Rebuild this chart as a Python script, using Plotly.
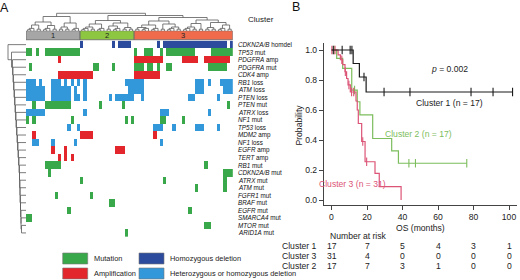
import plotly.graph_objects as go

W, H = 520, 280
def px(x): return x / W
def py(y): return 1 - y / H
def span(a, b): return list(range(a, b + 1))

# ---------------- data: panel A ----------------
genes = ["CDKN2A/B", "TP53", "PDGFRA", "PDGFRA", "CDK4", "RB1", "ATM", "PTEN", "PTEN", "ATRX",
         "NF1", "TP53", "MDM2", "NF1", "EGFR", "TERT", "RB1", "CDKN2A/B", "ATRX", "ATM",
         "FGFR1", "BRAF", "EGFR", "SMARCA4", "MTOR", "ARID1A"]
alterations = ["homdel", "mut", "amp", "mut", "amp", "loss", "loss", "loss", "mut", "loss",
               "mut", "loss", "amp", "loss", "amp", "amp", "mut", "mut", "mut", "mut",
               "mut", "mut", "mut", "mut", "mut", "mut"]
altered_samples = [
    [17, 27] + span(29, 32) + [41] + span(43, 62) + [64],
    [0, 1, 3] + span(6, 16) + [34] + span(37, 39) + [42] + span(44, 52) + span(58, 64),
    [10] + span(34, 42) + span(49, 53) + span(56, 63),
    [1, 21, 22, 27] + span(34, 36) + [38, 39, 41, 44, 45] + span(57, 62),
    span(10, 20) + span(34, 41),
    span(0, 2) + [4] + span(8, 10) + [12, 14, 16, 18] + span(31, 36) + span(53, 55) + [57] + span(61, 64),
    span(0, 5) + span(8, 13) + [15, 18] + span(32, 36) + span(53, 55) + span(62, 64),
    span(0, 5) + span(8, 13) + [15, 16, 18, 26] + span(28, 33) + [36, 51, 52, 60],
    [2] + span(6, 13) + [23, 30, 63],
    span(0, 5) + [18] + span(42, 44) + [57],
    [0, 2, 14, 31, 33, 42, 43, 49],
    [13, 16] + span(40, 42) + [46] + span(53, 55) + [60],
    [2] + span(17, 20) + [40],
    [2, 3, 8, 15, 42],
    [8, 12] + span(28, 30),
    [10, 12, 14],
    span(6, 10) + [56],
    [7] + span(62, 64),
    [17, 43, 62],
    [53, 62],
    [9, 20],
    [26, 27],
    [13, 51],
    [0, 1],
    [56, 57],
    [31],
]
cluster_names = ["1", "2", "3"]
cluster_sizes = [17, 17, 31]
cluster_colors = ["#a6a6a6", "#8dc641", "#ef6b4c"]
legend_labels = ["Mutation", "Amplification", "Homozygous deletion", "Heterozygous or homozygous deletion"]

# column dendrogram: (height, left, right); int = small group of leaves
col_tree = (17.7,
            (14.5, (9, (6, 3, 2), (5.5, 3, 2)), (8, (4, 2, 2), 3)),
            (15.5,
             (10.5, (7, (4, 3, 2), 3), (8, (5, 2, 3), (3.5, 2, 2))),
             (13.5,
              (10, (6, (3.5, 2, 3), 3), (7, 2, (4, 3, 2))),
              (11, (7.5, (4, 3, 2), 2), (8.5, (3.5, 2, 2), (6, 3, 2))))))
leaf_heights = {1: [], 2: [1.8], 3: [1.3, 2.6], 4: [1.2, 2.2, 3.0]}
row_merge_heights = [18, 14.5, 13.5, 13, 12.5, 12, 11.5, 11, 10.5, 10, 9.5, 9, 8.5, 8,
                     7.5, 7, 6.5, 6.5, 6, 6, 5.5, 5.5, 5, 5, 4.5]

# ---------------- data: panel B ----------------
c1_times = [0, 12.2, 15.7, 19.5]
c1_surv = [1.0, 0.91, 0.82, 0.72]
c1_end = 102.0
c1_censor = [1.0, 6.0, 10.5, 11.5, 18.3, 29.6, 44.2, 78.6, 91.0, 102.0]

c2_times = [0, 2.9, 6.3, 11.4, 14.5, 16.0, 23.2, 33.9, 37.7]
c2_surv = [1.0, 0.944, 0.878, 0.733, 0.655, 0.567, 0.41, 0.327, 0.245]
c2_end = 76.2
c2_censor = [1.5, 13.0, 43.6, 47.3, 76.2]

c3_times = [0, 3.7, 5.0, 6.3, 7.6, 8.5, 9.3, 10.6, 13.8, 14.5, 15.1, 17.0, 18.9, 24.5, 26.9, 39.2]
c3_surv = [1.0, 0.968, 0.935, 0.903, 0.855, 0.81, 0.767, 0.72, 0.66, 0.6, 0.51, 0.39, 0.255, 0.178, 0.089, 0.0]
c3_end = 39.2
c3_censor = [0.2, 2.0, 5.8, 7.8, 9.8, 11.3, 12.5, 17.6, 19.8]

risk_times = [0, 20, 40, 60, 80, 100]
risk_rows = ["Cluster 1", "Cluster 3", "Cluster 2"]
risk_c1 = [17, 7, 5, 4, 3, 1]
risk_c3 = [31, 4, 0, 0, 0, 0]
risk_c2 = [17, 7, 3, 1, 0, 0]

# ---------------- styles ----------------
FONT = "Liberation Sans, Arial, sans-serif"
KS = 8.6     # KM text size
bg = "#ffffff"
c_mut, c_amp, c_homdel, c_loss = "#39a84a", "#e2262c", "#2c4b9d", "#3298da"
legend_colors = [c_mut, c_amp, c_homdel, c_loss]
alt_code = {"mut": 1, "amp": 2, "homdel": 3, "loss": 4}
km_black, km_green, km_red = "#1a1a1a", "#7cbd5c", "#dc5476"

n_samples = sum(cluster_sizes)
n_rows = len(genes)

fig = go.Figure()

# ---- heatmap ----
z = [[0] * n_samples for _ in range(n_rows)]
for r, (alt, cols) in enumerate(zip(alterations, altered_samples)):
    for c in cols:
        z[r][c] = alt_code[alt]
cs = [[0, bg], [0.125, bg], [0.125, c_mut], [0.375, c_mut], [0.375, c_amp], [0.625, c_amp],
      [0.625, c_homdel], [0.875, c_homdel], [0.875, c_loss], [1, c_loss]]
fig.add_trace(go.Heatmap(z=z, x=list(range(n_samples)), y=list(range(n_rows)), zmin=0, zmax=4,
                         colorscale=cs, showscale=False, hoverinfo="skip", xaxis="x", yaxis="y"))

shapes = []
annotations = []

def note(text, x, y, size, color="#222", xanchor="center", xref="paper", yref="paper", **kw):
    annotations.append(dict(text=text, x=x, y=y, xref=xref, yref=yref, xanchor=xanchor, yanchor="middle",
                            showarrow=False, font=dict(size=size, color=color, family=kw.pop("family", FONT)), **kw))

# cluster bar
start = 0
for name, size, col in zip(cluster_names, cluster_sizes, cluster_colors):
    shapes.append(dict(type="rect", xref="x", yref="y", x0=start - 0.5, x1=start + size - 0.5,
                       y0=-1.85, y1=-0.65, fillcolor=col, line=dict(color="#666666", width=0.8)))
    note(name, start + size / 2 - 0.5, -1.25, 7.5, xref="x", yref="y")
    start += size

# column dendrogram
seg_x, seg_y = [], []
def build(node, s):
    if isinstance(node, int):
        cx, ch = s, 0
        for k in range(1, node):
            h = leaf_heights[node][k - 1]
            x = s + k
            seg_x.extend([cx, cx, x, x, None]); seg_y.extend([ch, h, h, 0, None])
            cx, ch = (cx + x) / 2, h
        return cx, ch, s + node
    h, a, b = node
    xa, ha, s = build(a, s)
    xb, hb, s = build(b, s)
    seg_x.extend([xa, xa, xb, xb, None]); seg_y.extend([ha, h, h, hb, None])
    return (xa + xb) / 2, h, s
build(col_tree, 0)
fig.add_trace(go.Scatter(x=seg_x, y=seg_y, mode="lines", line=dict(color="#5a5a5a", width=0.8),
                         hoverinfo="skip", xaxis="x", yaxis="y3"))

# row dendrogram (chain)
rx, ry = [], []
c, hc = n_rows - 1, 0
for k in range(n_rows - 2, -1, -1):
    h = row_merge_heights[k]
    rx.extend([0, h, h, hc, None]); ry.extend([k, k, c, c, None])
    c, hc = (k + c) / 2, h
fig.add_trace(go.Scatter(x=rx, y=ry, mode="lines", line=dict(color="#5a5a5a", width=0.8),
                         hoverinfo="skip", xaxis="x4", yaxis="y"))

# row labels
for r, (g, a) in enumerate(zip(genes, alterations)):
    note(f"<i>{g}</i> {a}", px(235.5), r, 6.3, color="#111", xanchor="left", yref="y")
note("Cluster", px(260.5), py(19.5), 8)

# legend
leg_pos = [(62.7, 253), (62.7, 268), (139, 253), (139, 268)]
for (lx, ly), col, lab in zip(leg_pos, legend_colors, legend_labels):
    shapes.append(dict(type="rect", xref="paper", yref="paper", x0=px(lx), x1=px(lx + 25),
                       y0=py(ly + 11), y1=py(ly), fillcolor=col, line=dict(color="#777", width=0.6)))
    note(lab, px(lx + 29), py(ly + 5.5), 7.4, xanchor="left")

# panel letters
note("A", px(4), py(7.5), 12.5, color="#111")
note("B", px(296), py(7), 12.5, color="#111")

# ---- KM ----
def surv_at(times, surv, t):
    s = surv[0]
    for ti, si in zip(times, surv):
        if ti <= t:
            s = si
    return s

for times, surv, end, cens, col in [(c2_times, c2_surv, c2_end, c2_censor, km_green),
                                     (c3_times, c3_surv, c3_end, c3_censor, km_red),
                                     (c1_times, c1_surv, c1_end, c1_censor, km_black)]:
    xs = list(times) + ([end] if end > times[-1] else [])
    ys = list(surv) + ([surv[-1]] if end > times[-1] else [])
    fig.add_trace(go.Scatter(x=xs, y=ys, mode="lines", line=dict(color=col, width=1.2, shape="hv"),
                             hoverinfo="skip", xaxis="x2", yaxis="y2"))
    fig.add_trace(go.Scatter(x=cens, y=[surv_at(times, surv, t) for t in cens], mode="markers",
                             marker=dict(symbol="line-ns", size=6, line=dict(width=1.1, color=col)),
                             hoverinfo="skip", xaxis="x2", yaxis="y2"))

note("<i>p</i> = 0.002", px(449.5), py(68.5), KS)
note("Cluster 1 (n = 17)", px(449.5), py(103), KS)
note("Cluster 2 (n = 17)", px(418.5), py(133.5), KS, color=km_green)
note("Cluster 3 (n = 31)", px(352), py(184), KS, color=km_red)
note("Probability", px(298.5), py(125), KS, textangle=-90)
note("OS (months)", px(420.5), py(227.5), KS)
note("Number at risk", px(328), py(235.5), KS, xanchor="left")
for lab, vals, yy in zip(risk_rows, [risk_c1, risk_c3, risk_c2], [245.5, 255.7, 265.9]):
    note(lab, px(318.5), py(yy), KS, xanchor="right")
    for t, v in zip(risk_times, vals):
        note(str(v), t, py(yy), KS, xref="x2")

hid = dict(visible=False, showgrid=False, zeroline=False)
fig.update_layout(
    width=W, height=H, autosize=False, margin=dict(l=0, r=0, t=0, b=0),
    paper_bgcolor=bg, plot_bgcolor=bg, showlegend=False,
    xaxis=dict(domain=[px(26), px(232.8)], range=[-0.5, n_samples - 0.5], anchor="y", **hid),
    yaxis=dict(domain=[py(236.7), py(30.7)], range=[n_rows - 0.5, -1.85], anchor="x", **hid),
    yaxis3=dict(domain=[py(31), py(12)], range=[0, 19], anchor="x", **hid),
    xaxis4=dict(domain=[px(3), px(26)], range=[23, 0], anchor="y", **hid),
    xaxis2=dict(domain=[px(324), px(517)], range=[-4.23, 104.5], anchor="y2", showgrid=False, zeroline=False,
                showline=True, linecolor="#444", linewidth=1.3, ticks="outside", ticklen=4, tickcolor="#444",
                tickvals=risk_times, tickfont=dict(size=KS, color="#222", family=FONT)),
    yaxis2=dict(domain=[py(205), py(43)], range=[-0.0333, 1.0467], anchor="x2", showgrid=False, zeroline=False,
                showline=True, linecolor="#444", linewidth=1.3, ticks="outside", ticklen=4, tickcolor="#444",
                tickvals=[0, 0.2, 0.4, 0.6, 0.8, 1.0], ticktext=["0.0", "0.2", "0.4", "0.6", "0.8", "1.0"],
                tickfont=dict(size=KS, color="#222", family=FONT)),
    shapes=shapes, annotations=annotations,
)
fig.write_html("out.html", config={"displayModeBar": False},
               post_script="document.body.style.margin='0';document.body.style.overflow='hidden';")
